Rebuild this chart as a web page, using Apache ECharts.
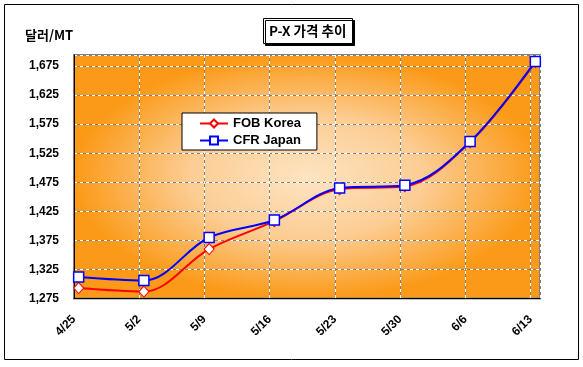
<!DOCTYPE html>
<html>
<head>
<meta charset="utf-8">
<script src="https://cdn.jsdelivr.net/npm/echarts@6/dist/echarts.min.js"></script>
<style>
  html, body { margin: 0; padding: 0; background: #fff; }
  #chart { width: 583px; height: 367px; }
</style>
</head>
<body>
<div id="chart"></div>
<script>
// ---- data ----
const dates = ['4/25', '5/2', '5/9', '5/16', '5/23', '5/30', '6/6', '6/13'];
const fobKorea = [1293, 1287, 1360, 1408, 1463, 1468, 1544, 1682];
const cfrJapan = [1312, 1306, 1380, 1410, 1465, 1470, 1545, 1683];
const yTicks = ['1,275', '1,325', '1,375', '1,425', '1,475', '1,525', '1,575', '1,625', '1,675'];
const seriesNames = ['FOB Korea', 'CFR Japan'];
const chartTitle = 'P-X 가격 추이';
const unitLabel = '달러/MT';

// day offsets of each date from the first (date axis, daily base unit)
function dayOf(s) { const p = s.split('/'); return Date.UTC(2000, +p[0] - 1, +p[1]) / 86400000; }
const day0 = dayOf(dates[0]);
const dayIdx = dates.map(d => dayOf(d) - day0);
const lastDay = dayIdx[dayIdx.length - 1];
// points sit in the middle of their day slot
const fobData = fobKorea.map((v, i) => [dayIdx[i] + 0.5, v]);
const cfrData = cfrJapan.map((v, i) => [dayIdx[i] + 0.5, v]);

const G = { left: 74, top: 55, right: 43, bottom: 68.5 };
const W = 583, H = 367;
const pw = W - G.left - G.right, ph = H - G.top - G.bottom;

const yMin = 1275, yMax = 1694, yStep = 50;
const labelFont = { fontFamily: '"Liberation Sans", Arial, sans-serif', fontWeight: 'bold', fontSize: 12, color: '#000' };

function xLabel(v) {
  const i = dayIdx.indexOf(v);
  return i >= 0 ? dates[i] : '';
}
function yLabel(v) {
  const i = Math.round((v - yMin) / yStep);
  return (Math.abs(v - (yMin + i * yStep)) < 1e-6 && yTicks[i]) ? yTicks[i] : '';
}

const chart = echarts.init(document.getElementById('chart'), null, { renderer: 'canvas' });
chart.setOption({
  animation: false,
  backgroundColor: '#fff',
  title: [{
    text: chartTitle,
    left: 263, top: 18,
    padding: [6, 6, 6, 6],
    backgroundColor: '#fff',
    borderColor: '#000', borderWidth: 1,
    shadowColor: '#000', shadowOffsetX: 2, shadowOffsetY: 2, shadowBlur: 0,
    textStyle: { fontFamily: '"Noto Sans CJK KR", sans-serif', fontWeight: 'bold', fontSize: 13.5, color: '#000' }
  }],
  graphic: [
    { type: 'rect', z: -1, silent: true,
      shape: { x: 4.5, y: 4.5, width: 574, height: 355 },
      style: { fill: 'none', stroke: '#000', lineWidth: 1 } },
    { type: 'rect', z: -1, silent: true,
      x: G.left, y: G.top, scaleX: pw / ph,
      shape: { x: 0, y: 0, width: ph, height: ph },
      style: { fill: new echarts.graphic.RadialGradient(0.5, 0.5, 0.5, [
        { offset: 0, color: '#FDE4C2' },
        { offset: 0.5, color: '#FCCD94' },
        { offset: 1, color: '#FB9A18' }
      ]) } },
    { type: 'text', z: 10, silent: true, x: 25, y: 35,
      style: { text: unitLabel, font: 'bold 13px "Noto Sans CJK KR", sans-serif', fill: '#000', verticalAlign: 'middle' } }
  ],
  legend: {
    orient: 'vertical',
    left: 182, top: 113,
    padding: [4, 16, 3, 17],
    itemGap: 4,
    itemWidth: 28, itemHeight: 10,
    backgroundColor: '#fff',
    borderColor: '#000', borderWidth: 1, borderRadius: 0,
    data: seriesNames,
    textStyle: { fontFamily: '"Liberation Sans", Arial, sans-serif', fontWeight: 'bold', fontSize: 13, color: '#000' }
  },
  grid: { left: G.left, top: G.top, right: G.right, bottom: G.bottom, show: true,
    backgroundColor: 'transparent', borderColor: '#808080', borderWidth: 2 },
  xAxis: [{
    type: 'value', min: 0, max: lastDay + 1, interval: 7,
    axisLine: { show: true, lineStyle: { color: '#000', width: 1 } },
    axisTick: { show: false },
    axisLabel: Object.assign({ rotate: 45, margin: 19, formatter: xLabel, showMaxLabel: false, showMinLabel: true }, labelFont),
    splitLine: { show: true, lineStyle: { color: '#fff', type: [3, 3], width: 1 } }
  }, {
    type: 'value', min: 0, max: lastDay + 1, interval: 7, position: 'bottom',
    axisLine: { show: false }, axisTick: { show: false }, axisLabel: { show: false },
    splitLine: { show: true, lineStyle: { color: '#808080', type: [3, 3], dashOffset: 3, width: 1 } }
  }],
  yAxis: [{
    type: 'value', min: yMin, max: yMax, interval: yStep,
    axisLine: { show: true, lineStyle: { color: '#000', width: 1 } },
    axisTick: { show: false },
    axisLabel: Object.assign({ margin: 15, formatter: yLabel, showMaxLabel: false }, labelFont),
    splitLine: { show: true, lineStyle: { color: '#fff', type: [3, 3], width: 1 } }
  }, {
    type: 'value', min: yMin, max: yMax, interval: yStep,
    axisLine: { show: false }, axisTick: { show: false }, axisLabel: { show: false },
    splitLine: { show: true, lineStyle: { color: '#808080', type: [3, 3], dashOffset: 3, width: 1 } }
  }],
  series: [{
    name: seriesNames[0], type: 'line', data: fobData, smooth: 0.35,
    xAxisIndex: 0, yAxisIndex: 0,
    symbol: 'diamond', symbolSize: [10, 11],
    lineStyle: { color: '#FF0000', width: 2 },
    itemStyle: { color: '#fff', borderColor: '#FF0000', borderWidth: 1 },
    z: 3
  }, {
    name: seriesNames[1], type: 'line', data: cfrData, smooth: 0.35,
    xAxisIndex: 0, yAxisIndex: 0,
    symbol: 'rect', symbolSize: 10,
    lineStyle: { color: '#0000FF', width: 2 },
    itemStyle: { color: '#fff', borderColor: '#0000FF', borderWidth: 1.5 },
    z: 4
  }]
});
</script>
</body>
</html>
